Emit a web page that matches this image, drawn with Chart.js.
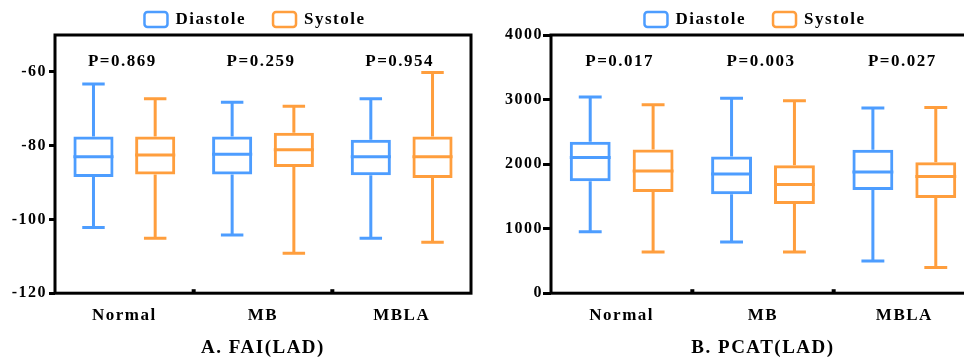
<!DOCTYPE html>
<html>
<head>
<meta charset="utf-8">
<script src="https://cdn.jsdelivr.net/npm/chart.js@4.4.1/dist/chart.umd.min.js"></script>
<style>
  html, body { margin: 0; padding: 0; background: #fff; overflow: hidden; }
  body { width: 964px; height: 359px; position: relative; }
  .panel { position: absolute; top: 0; height: 359px; }
  #wrapA { left: 0; width: 482px; }
  #wrapB { left: 484px; width: 500px; }
</style>
</head>
<body>
<div class="panel" id="wrapA"><canvas id="chartA"></canvas></div>
<div class="panel" id="wrapB"><canvas id="chartB"></canvas></div>
<script>
const categories = ['Normal', 'MB', 'MBLA'];
const seriesNames = ['Diastole', 'Systole'];

// A. FAI(LAD)
const faiDiaMin = [-102.2, -104.2, -105.1];
const faiDiaQ1  = [-88.5, -87.8, -88.0];
const faiDiaMed = [-83.0, -82.3, -83.0];
const faiDiaQ3  = [-77.5, -77.5, -78.4];
const faiDiaMax = [-63.3, -68.2, -67.3];
const faiSysMin = [-105.1, -109.2, -106.2];
const faiSysQ1  = [-87.8, -85.8, -88.8];
const faiSysMed = [-82.5, -81.1, -83.0];
const faiSysQ3  = [-77.5, -76.5, -77.5];
const faiSysMax = [-67.3, -69.3, -60.2];
const faiP = ['P=0.869', 'P=0.259', 'P=0.954'];
const faiTicks = [-120, -100, -80, -60];

// B. PCAT(LAD)
const pcatDiaMin = [952, 795, 497];
const pcatDiaQ1  = [1736, 1532, 1600];
const pcatDiaMed = [2102, 1846, 1877];
const pcatDiaQ3  = [2348, 2118, 2222];
const pcatDiaMax = [3038, 3022, 2871];
const pcatSysMin = [638, 638, 397];
const pcatSysQ1  = [1569, 1380, 1475];
const pcatSysMed = [1893, 1684, 1809];
const pcatSysQ3  = [2227, 1982, 2028];
const pcatSysMax = [2918, 2980, 2876];
const pcatP = ['P=0.017', 'P=0.003', 'P=0.027'];
const pcatTicks = [0, 1000, 2000, 3000, 4000];

const BLUE = '#4d9dff';
const ORANGE = '#ff9e3d';
const FONT = '"Liberation Serif", "Times New Roman", serif';

Chart.defaults.font.family = FONT;
Chart.defaults.font.weight = 'bold';
Chart.defaults.color = '#000';

// whiskers, medians, frame, P values and legend
const boxParts = {
  id: 'boxParts',
  beforeLayout(chart) { chart.ctx.letterSpacing = '1.5px'; },
  beforeDraw(chart) { chart.ctx.letterSpacing = '1.5px'; },
  afterDatasetsDraw(chart, args, opts) {
    const { ctx, chartArea: a, scales: { x, y } } = chart;
    ctx.save();
    ctx.lineWidth = 3;
    ctx.lineCap = 'butt';
    chart.data.datasets.forEach((ds, d) => {
      const meta = chart.getDatasetMeta(d);
      ctx.strokeStyle = ds.borderColor;
      meta.data.forEach((bar, i) => {
        const half = bar.width / 2;
        const cap = bar.width * 0.28;
        const top = Math.min(bar.y, bar.base);
        const bot = Math.max(bar.y, bar.base);
        const pMax = y.getPixelForValue(ds.stats.max[i]);
        const pMin = y.getPixelForValue(ds.stats.min[i]);
        const pMed = y.getPixelForValue(ds.stats.med[i]);
        ctx.beginPath();
        ctx.moveTo(bar.x, top); ctx.lineTo(bar.x, pMax);
        ctx.moveTo(bar.x - cap, pMax); ctx.lineTo(bar.x + cap, pMax);
        ctx.moveTo(bar.x, bot); ctx.lineTo(bar.x, pMin);
        ctx.moveTo(bar.x - cap, pMin); ctx.lineTo(bar.x + cap, pMin);
        ctx.moveTo(bar.x - half, pMed); ctx.lineTo(bar.x + half, pMed);
        ctx.stroke();
      });
    });

    // frame
    ctx.strokeStyle = '#000';
    ctx.lineWidth = 3;
    ctx.strokeRect(a.left, a.top, a.right - a.left, a.bottom - a.top);
    ctx.fillStyle = '#000';
    for (let i = 1; i < categories.length; i++) {
      const bx = (x.getPixelForValue(i - 1) + x.getPixelForValue(i)) / 2;
      ctx.fillRect(bx - 2, a.bottom - 4, 4, 4);
    }

    // P values
    ctx.font = 'bold 17px ' + FONT;
    ctx.textAlign = 'center';
    ctx.textBaseline = 'middle';
    opts.pLabels.forEach((t, i) => {
      ctx.fillText(t, x.getPixelForValue(i) - 2, a.top + 27);
    });

    // legend
    ctx.font = 'bold 17px ' + FONT;
    ctx.textAlign = 'left';
    const widths = chart.data.datasets.map(ds => ctx.measureText(ds.label).width);
    const total = widths.reduce((s, w) => s + 23 + 8 + w, 0) + 27 * (widths.length - 1);
    let lx = (a.left + a.right) / 2 - 8 - total / 2;
    chart.data.datasets.forEach((ds, d) => {
      ctx.strokeStyle = ds.borderColor;
      ctx.lineWidth = 2.5;
      ctx.beginPath();
      ctx.roundRect(lx, 12, 23, 15, 3);
      ctx.stroke();
      ctx.fillStyle = '#000';
      ctx.fillText(ds.label, lx + 31, 19.5);
      lx += 23 + 8 + widths[d] + 27;
    });
    ctx.restore();
  }
};

function boxDataset(label, color, q1, q3, min, med, max) {
  return {
    label: label,
    data: q1.map((v, i) => [v, q3[i]]),
    stats: { min: min, med: med, max: max },
    backgroundColor: 'rgba(255,255,255,0)',
    borderColor: color,
    borderWidth: 3,
    borderSkipped: false,
    barPercentage: 0.65,
    categoryPercentage: 0.89
  };
}

function makeChart(id, datasets, yMin, yMax, yTicks, pLabels, title, axisWidth, padRight, tickLen, tickPad) {
  return new Chart(document.getElementById(id), {
    type: 'bar',
    data: { labels: categories, datasets: datasets },
    plugins: [boxParts],
    options: {
      responsive: true,
      maintainAspectRatio: false,
      animation: false,
      layout: { padding: { top: 35, right: padRight, bottom: 0, left: 0 } },
      plugins: {
        legend: { display: false },
        tooltip: { enabled: false },
        title: {
          display: true,
          text: title,
          position: 'bottom',
          fullSize: false,
          font: { size: 19, weight: 'bold' },
          color: '#000',
          padding: { top: 15, bottom: 0 }
        },
        boxParts: { pLabels: pLabels }
      },
      scales: {
        x: {
          offset: true,
          grid: { display: false },
          border: { display: false },
          ticks: { font: { size: 17, weight: 'bold' }, padding: 4, color: '#000' },
          afterFit(s) { s.height = 28; }
        },
        y: {
          min: yMin,
          max: yMax,
          grid: { drawOnChartArea: false, tickLength: tickLen, tickWidth: 3, tickColor: '#000' },
          border: { display: false },
          ticks: {
            font: { size: 16, weight: 'bold' },
            padding: tickPad,
            color: '#000',
            callback: v => String(v)
          },
          afterBuildTicks(s) { s.ticks = yTicks.map(v => ({ value: v })); },
          afterFit(s) { s.width = axisWidth; }
        }
      }
    }
  });
}

makeChart('chartA', [
  boxDataset(seriesNames[0], BLUE, faiDiaQ1, faiDiaQ3, faiDiaMin, faiDiaMed, faiDiaMax),
  boxDataset(seriesNames[1], ORANGE, faiSysQ1, faiSysQ3, faiSysMin, faiSysMed, faiSysMax)
], -120, -50, faiTicks, faiP, 'A. FAI(LAD)', 55, 11, 6, 2);

makeChart('chartB', [
  boxDataset(seriesNames[0], BLUE, pcatDiaQ1, pcatDiaQ3, pcatDiaMin, pcatDiaMed, pcatDiaMax),
  boxDataset(seriesNames[1], ORANGE, pcatSysQ1, pcatSysQ3, pcatSysMin, pcatSysMed, pcatSysMax)
], 0, 4000, pcatTicks, pcatP, 'B. PCAT(LAD)', 67, 9, 8, 0);
</script>
</body>
</html>
